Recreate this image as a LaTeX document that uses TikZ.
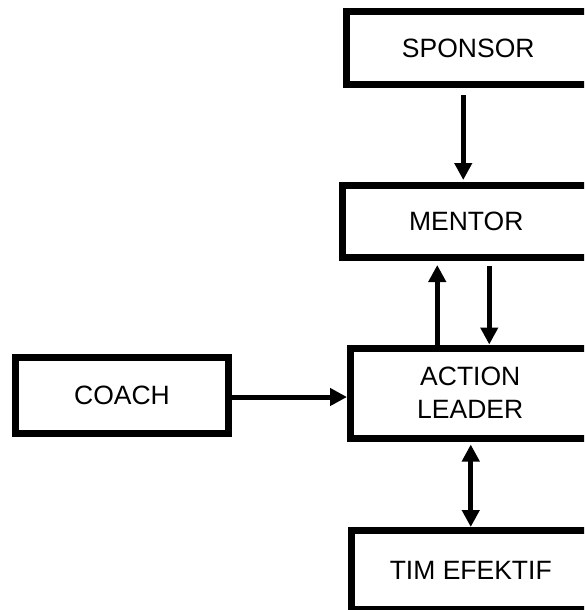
\documentclass[tikz,border=0pt]{standalone}
\usepackage{fontspec}
\setmainfont{Liberation Sans}
\usetikzlibrary{arrows.meta,calc}
\begin{document}
\begin{tikzpicture}[x=1pt,y=-1pt,
  box/.style={draw=black,line width=7pt,rectangle,inner sep=0pt,align=center,
    font=\fontsize{26.5}{33}\selectfont},
  arr/.style={line width=5pt,-{Triangle[length=17pt,width=17pt]}},
  darr/.style={line width=5pt,{Triangle[length=17pt,width=17pt]}-{Triangle[length=17pt,width=17pt]}}]
\useasboundingbox (0,0) rectangle (584,610);
\clip (0,0) rectangle (584,610);
\fill[white] (0,0) rectangle (584,610);
\node[box,minimum width=243.5pt,minimum height=73pt] (sponsor) at (468.25,48) {SPONSOR};
\node[box,minimum width=247.5pt,minimum height=72pt] (mentor) at (466.25,221.5) {MENTOR};
\node[box,minimum width=239.5pt,minimum height=90pt] (action) at (470.25,393) {ACTION\\LEADER};
\node[box,minimum width=213pt,minimum height=76pt] (coach) at (122,395.5) {COACH};
\node[box,minimum width=238.5pt,minimum height=79pt] (tim) at (470.75,570) {TIM EFEKTIF};
\draw[arr,shorten <=7pt,shorten >=2pt] ([xshift=-3pt]sponsor.south -| mentor.north) -- ([xshift=-3pt]mentor.north);
\draw[arr,shorten >=4pt] ([xshift=-33pt]action.north) -- ([xshift=-33pt]action.north |- mentor.south);
\draw[arr,shorten <=5pt] ([xshift=19pt]action.north |- mentor.south) -- ([xshift=19pt]action.north);
\draw[arr] ([yshift=-1.5pt]coach.east) -- ([yshift=-1.5pt]coach.east -| action.west);
\draw[darr,shorten <=3pt] (tim.north |- action.south) -- (tim.north);
\end{tikzpicture}
\end{document}
